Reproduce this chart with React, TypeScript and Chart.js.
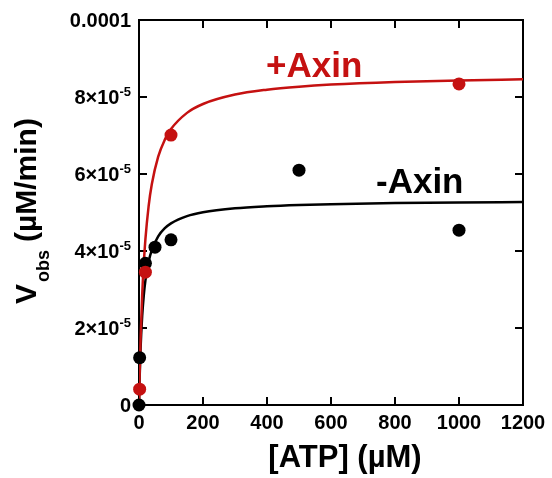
import React, { useEffect, useRef } from "react";
import { Chart, registerables } from "chart.js";

Chart.register(...registerables);

// ---- data ----
const BLACK_X = [0, 2, 20, 50, 100, 500, 1000];
const BLACK_Y = [0, 1.23e-5, 3.68e-5, 4.1e-5, 4.29e-5, 6.1e-5, 4.54e-5];
const RED_X = [2, 20, 100, 1000];
const RED_Y = [4.1e-6, 3.45e-5, 7.01e-5, 8.34e-5];

const FIT_X = [0, 2, 5, 10, 15, 20, 30, 40, 60, 80, 100, 150, 200, 300, 400, 500, 600, 800, 1000, 1200];
const FIT_RED_Y = [0, 7.82e-6, 1.72e-5, 2.867e-5, 3.686e-5, 4.3e-5, 5.16e-5, 5.733e-5, 6.45e-5, 6.88e-5, 7.167e-5, 7.588e-5, 7.818e-5, 8.063e-5, 8.19e-5, 8.269e-5, 8.323e-5, 8.39e-5, 8.431e-5, 8.459e-5];
const FIT_BLACK_Y = [0, 7.11e-6, 1.481e-5, 2.317e-5, 2.855e-5, 3.23e-5, 3.719e-5, 4.023e-5, 4.381e-5, 4.585e-5, 4.717e-5, 4.905e-5, 5.005e-5, 5.109e-5, 5.162e-5, 5.195e-5, 5.217e-5, 5.245e-5, 5.262e-5, 5.273e-5];

const X_TICKS = [0, 200, 400, 600, 800, 1000, 1200];
const X_TICK_LABELS = ["0", "200", "400", "600", "800", "1000", "1200"];
const Y_TICKS = [0, 2e-5, 4e-5, 6e-5, 8e-5, 1e-4];
const Y_TICK_BASE = ["0", "2×10", "4×10", "6×10", "8×10", "0.0001"];
const Y_TICK_EXP = ["", "-5", "-5", "-5", "-5", ""];

const X_TITLE = "[ATP] (µM)";
const Y_TITLE_MAIN = "V";
const Y_TITLE_SUB = "obs";
const Y_TITLE_UNIT = "(µM/min)";
const LABEL_PLUS = "+Axin";
const LABEL_MINUS = "-Axin";

const RED = "#c51111";
const BLACK = "#000000";
const FONT = "'Liberation Sans', Arial, Helvetica, sans-serif";

const toPts = (xs: number[], ys: number[]) => xs.map((x, i) => ({ x, y: ys[i] }));

const framePlugin = {
  id: "frame",
  beforeDatasetsDraw(chart: any) {
    const { ctx, chartArea: a, scales } = chart;
    const xs = scales.x;
    const ys = scales.y;
    ctx.save();
    ctx.strokeStyle = "#000";
    ctx.lineWidth = 2;
    ctx.strokeRect(a.left, a.top, a.right - a.left, a.bottom - a.top);
    ctx.beginPath();
    const tl = 8;
    X_TICKS.forEach((v) => {
      const px = Math.round(xs.getPixelForValue(v));
      if (v !== 0 && v !== 1200) {
        ctx.moveTo(px, a.bottom);
        ctx.lineTo(px, a.bottom - tl);
        ctx.moveTo(px, a.top);
        ctx.lineTo(px, a.top + tl);
      }
    });
    Y_TICKS.forEach((v) => {
      const py = Math.round(ys.getPixelForValue(v));
      if (v !== 0 && v !== 1e-4) {
        ctx.moveTo(a.left, py);
        ctx.lineTo(a.left + tl, py);
        ctx.moveTo(a.right, py);
        ctx.lineTo(a.right - tl, py);
      }
    });
    ctx.stroke();
    ctx.restore();
  },
  afterDraw(chart: any) {
    const { ctx, chartArea: a, scales } = chart;
    const xs = scales.x;
    const ys = scales.y;
    ctx.save();
    ctx.fillStyle = "#000";
    // x tick labels
    ctx.font = `bold 20px ${FONT}`;
    ctx.textAlign = "center";
    ctx.textBaseline = "alphabetic";
    X_TICKS.forEach((v, i) => {
      ctx.fillText(X_TICK_LABELS[i], xs.getPixelForValue(v), 428.5);
    });
    // y tick labels
    Y_TICKS.forEach((v, i) => {
      const py = ys.getPixelForValue(v);
      const base = Y_TICK_BASE[i];
      const exp = Y_TICK_EXP[i];
      ctx.font = `bold 20px ${FONT}`;
      const bw = ctx.measureText(base).width;
      ctx.font = `bold 13px ${FONT}`;
      const ew = exp ? ctx.measureText(exp).width : 0;
      const right = a.left - 8;
      const start = right - bw - ew;
      ctx.textAlign = "left";
      ctx.font = `bold 20px ${FONT}`;
      ctx.fillText(base, start, py + 7);
      if (exp) {
        ctx.font = `bold 13px ${FONT}`;
        ctx.fillText(exp, start + bw, py - 1);
      }
    });
    // x title
    ctx.font = `bold 31px ${FONT}`;
    ctx.textAlign = "center";
    ctx.fillText(X_TITLE, 345, 467);
    // y title
    ctx.save();
    ctx.translate(36, 304);
    ctx.rotate(-Math.PI / 2);
    ctx.textAlign = "left";
    ctx.font = `bold 30px ${FONT}`;
    ctx.fillText(Y_TITLE_MAIN, 0, 0);
    const vw = ctx.measureText(Y_TITLE_MAIN).width;
    ctx.font = `bold 18px ${FONT}`;
    ctx.fillText(Y_TITLE_SUB, vw + 2, 13);
    const sw = ctx.measureText(Y_TITLE_SUB).width;
    ctx.font = `bold 30px ${FONT}`;
    ctx.fillText(Y_TITLE_UNIT, vw + 2 + sw + 8, 0);
    ctx.restore();
    // series labels
    ctx.font = `bold 35px ${FONT}`;
    ctx.textAlign = "left";
    ctx.fillStyle = RED;
    ctx.fillText(LABEL_PLUS, 266, 77);
    ctx.fillStyle = BLACK;
    ctx.fillText(LABEL_MINUS, 376, 193);
    ctx.restore();
  },
};

export default function App() {
  const ref = useRef<HTMLCanvasElement | null>(null);
  useEffect(() => {
    if (!ref.current) return;
    const chart = new Chart(ref.current, {
      type: "scatter",
      data: {
        datasets: [
          {
            label: "+Axin fit",
            data: toPts(FIT_X, FIT_RED_Y),
            showLine: true,
            borderColor: RED,
            borderWidth: 2.5,
            pointRadius: 0,
            cubicInterpolationMode: "monotone",
            order: 2,
          } as any,
          {
            label: "-Axin fit",
            data: toPts(FIT_X, FIT_BLACK_Y),
            showLine: true,
            borderColor: BLACK,
            borderWidth: 2.5,
            pointRadius: 0,
            cubicInterpolationMode: "monotone",
            order: 2,
          } as any,
          {
            label: "-Axin",
            data: toPts(BLACK_X, BLACK_Y),
            pointRadius: 6.5,
            backgroundColor: BLACK,
            borderWidth: 0,
            clip: false,
            order: 1,
          } as any,
          {
            label: "+Axin",
            data: toPts(RED_X, RED_Y),
            pointRadius: 6.5,
            backgroundColor: RED,
            borderWidth: 0,
            clip: false,
            order: 0,
          } as any,
        ],
      },
      options: {
        animation: false,
        responsive: false,
        layout: { padding: { top: 20, right: 29, left: 0, bottom: 0 } },
        plugins: { legend: { display: false }, tooltip: { enabled: false } },
        scales: {
          x: {
            type: "linear",
            min: 0,
            max: 1200,
            grid: { display: false },
            border: { display: false },
            ticks: { display: false, stepSize: 200 },
            afterFit: (s: any) => {
              s.height = 73;
            },
          },
          y: {
            type: "linear",
            min: 0,
            max: 1e-4,
            grid: { display: false },
            border: { display: false },
            ticks: { display: false, stepSize: 2e-5 },
            afterFit: (s: any) => {
              s.width = 139;
            },
          },
        },
      } as any,
      plugins: [framePlugin],
    });
    return () => chart.destroy();
  }, []);
  return (
    <div style={{ position: "absolute", left: 0, top: 0, width: 552, height: 478, background: "#fff" }}>
      <canvas ref={ref} width={552} height={478} />
    </div>
  );
}
